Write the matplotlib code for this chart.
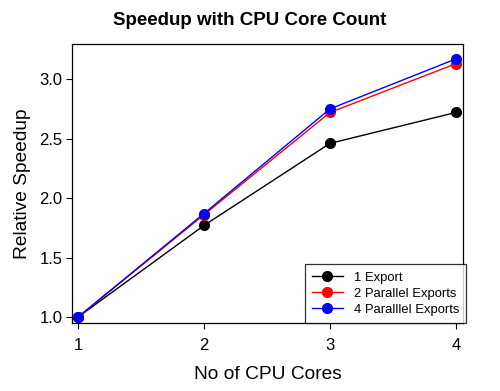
import matplotlib
matplotlib.use("Agg")
import matplotlib.pyplot as plt

plt.rcParams["font.family"] = ["Liberation Sans", "DejaVu Sans"]

# Data
cores = [1, 2, 3, 4]
one_export = [1.0, 1.77, 2.46, 2.72]
two_parallel = [1.0, 1.86, 2.72, 3.13]
four_parallel = [1.0, 1.87, 2.75, 3.17]

series = [
    ("1 Export", one_export, "black"),
    ("2 Parallel Exports", two_parallel, "red"),
    ("4 Paralllel Exports", four_parallel, "blue"),
]

fig = plt.figure(figsize=(5.0, 3.91), dpi=100)
ax = fig.add_axes([0.144, 0.174, 0.782, 0.713])

for label, values, color in series:
    ax.plot(cores, values, color=color, linewidth=1.0, marker="o",
            markersize=7, label=label)

ax.set_xlim(0.952, 4.056)
ax.set_ylim(0.95, 3.294)
ax.set_xticks(cores)
ax.set_yticks([1.0, 1.5, 2.0, 2.5, 3.0])
ax.set_yticklabels(["1.0", "1.5", "2.0", "2.5", "3.0"])
ax.tick_params(direction="out", length=4, width=0.8, labelsize=12, colors="black")
ax.tick_params(axis="x", pad=7)
ax.tick_params(axis="y", pad=3)

for spine in ax.spines.values():
    spine.set_linewidth(0.9)

ax.set_xlabel("No of CPU Cores", fontsize=13.8, labelpad=9)
ax.set_ylabel("Relative Speedup", fontsize=13.8, labelpad=6)
fig.suptitle("Speedup with CPU Core Count", fontsize=13.5, fontweight="bold",
             x=0.5, y=0.97)

leg = ax.legend(loc="lower right", bbox_to_anchor=(1.008, 0.0), fontsize=9.4,
                frameon=True, fancybox=False, borderaxespad=0.0,
                handlelength=2.4, labelspacing=0.3, borderpad=0.55,
                markerscale=1.0)
leg.get_frame().set_edgecolor("black")
leg.get_frame().set_linewidth(0.9)

fig.savefig("out.png", dpi=100)
